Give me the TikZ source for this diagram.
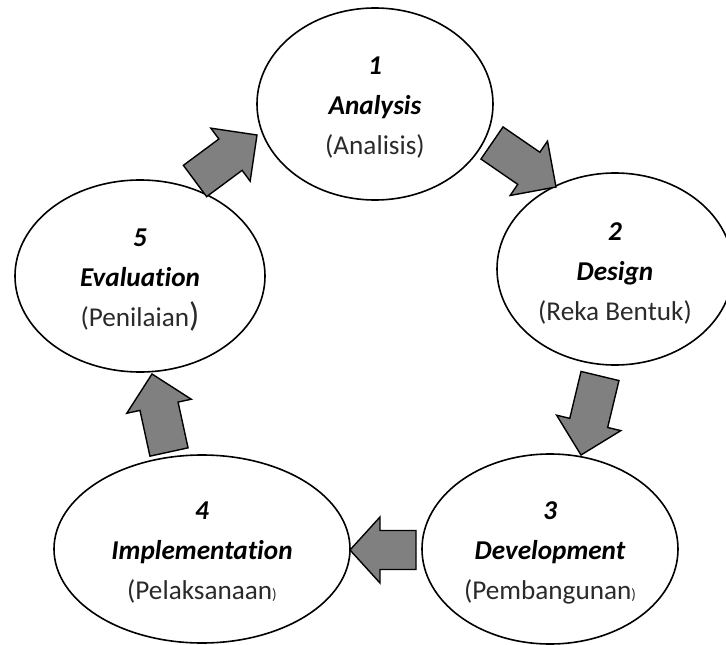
\documentclass[tikz,border=0pt]{standalone}
\usepackage{fontspec}
\setmainfont[Ligatures=NoCommon]{Carlito}
\usetikzlibrary{shapes.geometric,calc}
\definecolor{arrowgray}{HTML}{808080}
\definecolor{txtgray}{HTML}{2A2A2A}
\tikzset{
  phase/.style={draw=black, line width=1.6pt, ellipse, inner sep=0pt},
  phasetext/.style={inner sep=0pt, align=center,
    font=\fontsize{27.2}{40}\selectfont, text=txtgray},
  blockarrow/.style={draw=black, line width=1.4pt, fill=arrowgray, line join=miter},
}
\newcommand{\hd}[1]{\textcolor{black}{\bfseries\itshape #1}}
\newcommand{\bigpar}{{\fontsize{34}{40}\selectfont)}}
\newcommand{\smallpar}{{\fontsize{15}{40}\selectfont)}}
% block arrow: name, tail, tip, half shaft width, half head width, head length
\newcommand{\blockarr}[6]{%
  \coordinate (#1-b) at ($(#3)!#6!(#2)$);
  \draw[blockarrow]
    ($(#2)!#4!90:(#3)$) -- ($(#1-b)!#4!90:(#3)$) -- ($(#1-b)!#5!90:(#3)$)
    -- (#3) -- ($(#1-b)!#5!-90:(#3)$) -- ($(#1-b)!#4!-90:(#3)$)
    -- ($(#2)!#4!-90:(#3)$) -- cycle;
}
\begin{document}
\begin{tikzpicture}[x=1pt,y=-1pt]
  \useasboundingbox (0,0) rectangle (726,645);
  % phases
  \node[phase, minimum width=236pt, minimum height=192pt] (analysis) at (375,104) {};
  \node[phase, minimum width=236pt, minimum height=192pt] (design) at (615,269) {};
  \node[phase, minimum width=256pt, minimum height=190pt] (development) at (550,549) {};
  \node[phase, minimum width=296pt, minimum height=188pt] (implementation) at (202,549) {};
  \node[phase, minimum width=250pt, minimum height=192pt] (evaluation) at (140,276) {};
  % texts
  \node[phasetext] (analysis-t) at ([yshift=-4pt]analysis.center)
    {\hd{1}\\\hd{Analysis}\\(Analisis)};
  \node[phasetext] (design-t) at ([yshift=-4pt]design.center)
    {\hd{2}\\\hd{Design}\\(Reka Bentuk)};
  \node[phasetext] (development-t) at ([yshift=-4pt]development.center)
    {\hd{3}\\\hd{Development}\\(Pembangunan\smallpar};
  \node[phasetext] (implementation-t) at ([yshift=-4pt]implementation.center)
    {\hd{4}\\\hd{Implementation}\\(Pelaksanaan\smallpar};
  \node[phasetext] (evaluation-t) at ([yshift=-4pt]evaluation.center)
    {\hd{5}\\\hd{Evaluation}\\(Penilaian\bigpar};
  % arrow end points
  \coordinate (a1t) at (492,143);  \coordinate (a1h) at (556,187);
  \coordinate (a2t) at (600,376);  \coordinate (a2h) at (581,455);
  \coordinate (a3t) at (416,550);  \coordinate (a3h) at (350,550);
  \coordinate (a4t) at (169,452);  \coordinate (a4h) at (152,374);
  \coordinate (a5t) at (195,181);  \coordinate (a5h) at (257,135);
  \blockarr{a1}{a1t}{a1h}{19.5pt}{33pt}{33pt}
  \blockarr{a2}{a2t}{a2h}{19.5pt}{33pt}{33pt}
  \blockarr{a3}{a3t}{a3h}{19.5pt}{33pt}{30pt}
  \blockarr{a4}{a4t}{a4h}{19.5pt}{33pt}{33pt}
  \blockarr{a5}{a5t}{a5h}{19.5pt}{33pt}{33pt}
\end{tikzpicture}
\end{document}
